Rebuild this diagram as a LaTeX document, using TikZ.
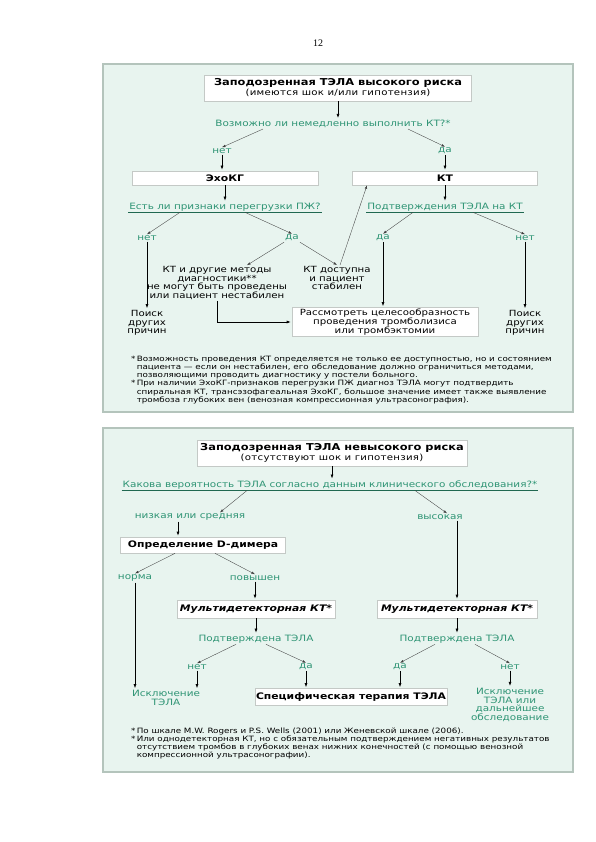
\documentclass[tikz,border=0pt]{standalone}
\usepackage{fontspec}
\setmainfont{DejaVu Sans}[FakeStretch=1.2]
\newfontfamily\pagefont{Liberation Serif}
\usepackage{xcolor}
\usetikzlibrary{arrows.meta, positioning, calc}
\definecolor{panelbg}{HTML}{E8F4EF}
\definecolor{panelline}{HTML}{B4C4BC}
\definecolor{qgreen}{HTML}{2E9474}
\definecolor{boxline}{HTML}{C4C9C6}

\begin{document}
\begin{tikzpicture}[x=1pt, y=-1pt,
  panel/.style={fill=panelbg, draw=panelline, line width=1.5pt},
  b/.style={draw=boxline, fill=white, line width=0.6pt, align=center, inner sep=1pt, font=\fontsize{9}{10}\selectfont\bfseries},
  bx/.style={b, font=\fontsize{8.5}{8.6}\selectfont},
  q/.style={text=qgreen, align=center, inner sep=1pt, font=\fontsize{8.7}{8.8}\selectfont},
  ul/.style={qgreen!70!black, line width=0.5pt},
  fl/.style={-{Latex[length=4pt, width=3pt]}, line width=0.6pt, shorten >=1pt},
  dl/.style={-{Latex[length=3.5pt, width=2.5pt]}, line width=0.35pt, black!75},
  txt/.style={align=center, inner sep=1pt, font=\fontsize{8.5}{8.6}\selectfont},
  nt/.style={align=left, inner sep=0pt, anchor=north west, font=\fontsize{7.3}{8.3}\selectfont}]
  \useasboundingbox (0,0) rectangle (595,842);
  \node[font=\pagefont\fontsize{10}{12}\selectfont] (pg) at (318,43) {12};

  % high risk
  \draw[panel] (103,64) rectangle (573,412);
  \node[b, minimum width=267pt, minimum height=26pt] (t1) at (338,88)
    {{\fontsize{9.5}{10.5}\selectfont Заподозренная ТЭЛА высокого риска}\\{\mdseries\fontsize{8.5}{8.5}\selectfont\addfontfeature{LetterSpace=3} (имеются шок и/или гипотензия)}};
  \node[q] (q1) at (333,124) {Возможно ли немедленно выполнить КТ?*};
  \node[q] (no1) at (222,151) {нет};
  \node[q] (yes1) at (445,151) {да};
  \node[b, minimum width=186pt, minimum height=14pt] (echo) at (225,178) {ЭхоКГ};
  \node[b, minimum width=185pt, minimum height=14pt] (ct) at (445,178) {КТ};
  \node[q] (q2) at (225,207) {Есть ли признаки перегрузки ПЖ?};
  \node[q] (q3) at (445,207) {Подтверждения ТЭЛА на КТ};
  \draw[ul] (q2.south west) -- (q2.south east);
  \draw[ul] (q3.south west) -- (q3.south east);
  \node[q] (no2) at (147,238) {нет};
  \node[q] (yes2) at (292,238) {да};
  \node[q] (yes3) at (383,238) {да};
  \node[q] (no3) at (525,238) {нет};
  \node[txt] (unst) at (217,283) {КТ и другие методы\\диагностики**\\не могут быть проведены\\или пациент нестабилен};
  \node[txt] (stab) at (337,278) {КТ доступна\\и пациент\\стабилен};
  \node[txt] (oth1) at (147,323) {Поиск\\других\\причин};
  \node[bx, minimum width=186pt, minimum height=29pt] (thr) at (385,322) {Рассмотреть целесообразность\\проведения тромболизиса\\или тромбэктомии};
  \node[txt] (oth2) at (525,323) {Поиск\\других\\причин};
  \draw[fl] (t1.south) -- (t1.south |- q1.north);
  \draw[dl] ([xshift=-70pt]q1.south) -- (no1.north);
  \draw[dl] ([xshift=75pt]q1.south) -- (yes1.north);
  \draw[fl] (no1.south) -- (no1.south |- echo.north);
  \draw[fl] (yes1.south) -- (ct.north);
  \draw[fl] (echo.south) -- (echo.south |- q2.north);
  \draw[fl] (ct.south) -- (q3.north);
  \draw[dl] ([xshift=-45pt]q2.south) -- (no2.north);
  \draw[dl] ([xshift=20pt]q2.south) -- (yes2.north);
  \draw[dl] ([xshift=-32pt]q3.south) -- (yes3.north);
  \draw[dl] ([xshift=28pt]q3.south) -- (no3.north);
  \draw[dl] ([xshift=-8pt]yes2.south) -- ([xshift=30pt]unst.north);
  \draw[dl] ([xshift=8pt]yes2.south) -- (stab.north);
  \draw[dl] ([xshift=3pt]stab.north) -- ([xshift=-78pt]ct.south);
  \draw[fl] (no2.south) -- (oth1.north);
  \draw[fl] (yes3.south) -- (yes3.south |- thr.north);
  \draw[fl] (no3.south) -- (oth2.north);
  \draw[fl] (unst.south) |- (thr.west);
  \node[nt] (n1) at (131,355) {\begin{tabular}{@{}r@{\,}l@{}}
    * & Возможность проведения КТ определяется не только ее доступностью, но и состоянием\\
      & пациента — если он нестабилен, его обследование должно ограничиться методами,\\
      & позволяющими проводить диагностику у постели больного.\\
    ** & При наличии ЭхоКГ-признаков перегрузки ПЖ диагноз ТЭЛА могут подтвердить\\
      & спиральная КТ, трансэзофагеальная ЭхоКГ, большое значение имеет также выявление\\
      & тромбоза глубоких вен (венозная компрессионная ультрасонография).
  \end{tabular}};

  % low risk
  \draw[panel] (103,428) rectangle (573,772);
  \node[b, minimum width=270pt, minimum height=26pt] (t2) at (332,453)
    {{\fontsize{9.5}{10.5}\selectfont Заподозренная ТЭЛА невысокого риска}\\{\mdseries\fontsize{8.5}{8.5}\selectfont\addfontfeature{LetterSpace=3} (отсутствуют шок и гипотензия)}};
  \node[q] (q4) at (330,485) {Какова вероятность ТЭЛА согласно данным клинического обследования?*};
  \draw[ul] (q4.south west) -- (q4.south east);
  \node[q] (low) at (190,517) {низкая или средняя};
  \node[q] (high) at (440,517) {высокая};
  \node[b, minimum width=165pt, minimum height=16pt] (dd) at (203,545) {Определение D-димера};
  \node[q] (norm) at (135,578) {норма};
  \node[q] (elev) at (255,578) {повышен};
  \node[b, minimum width=158pt, minimum height=18pt] (mct1) at (256,609) {\itshape Мультидетекторная КТ*};
  \node[b, minimum width=160pt, minimum height=18pt] (mct2) at (457,609) {\itshape Мультидетекторная КТ*};
  \node[q] (cf1) at (256,639) {Подтверждена ТЭЛА};
  \node[q] (cf2) at (457,639) {Подтверждена ТЭЛА};
  \node[q] (no4) at (197,667) {нет};
  \node[q] (yes4) at (306,667) {да};
  \node[q] (yes5) at (400,667) {да};
  \node[q] (no5) at (510,667) {нет};
  \node[q] (ex1) at (166,698) {Исключение\\ТЭЛА};
  \node[b, minimum width=192pt, minimum height=17pt] (spec) at (351,697) {Специфическая терапия ТЭЛА};
  \node[q] (ex2) at (510,705) {Исключение\\ТЭЛА или\\дальнейшее\\обследование};
  \draw[fl] (t2.south) -- (t2.south |- q4.north);
  \draw[dl] ([xshift=-83pt]q4.south) -- ([xshift=30pt]low.north);
  \draw[dl] ([xshift=85pt]q4.south) -- ([xshift=7pt]high.north);
  \draw[fl] ([xshift=-12pt]low.south) -- ([xshift=-12pt]low.south |- dd.north);
  \draw[fl] ([xshift=17pt]high.south) -- ([xshift=17pt]high.south |- mct2.north);
  \draw[dl] ([xshift=-28pt]dd.south) -- (norm.north);
  \draw[dl] ([xshift=12pt]dd.south) -- (elev.north);
  \draw[fl] (norm.south) -- (norm.south |- ex1.north);
  \draw[fl] (elev.south) -- (elev.south |- mct1.north);
  \draw[fl] (mct1.south) -- (cf1.north);
  \draw[fl] (mct2.south) -- (cf2.north);
  \draw[dl] ([xshift=-20pt]cf1.south) -- (no4.north);
  \draw[dl] ([xshift=10pt]cf1.south) -- (yes4.north);
  \draw[dl] ([xshift=-22pt]cf2.south) -- (yes5.north);
  \draw[dl] ([xshift=18pt]cf2.south) -- (no5.north);
  \draw[fl] (no4.south) -- (no4.south |- ex1.north);
  \draw[fl] (yes4.south) -- (yes4.south |- spec.north);
  \draw[fl] (yes5.south) -- (yes5.south |- spec.north);
  \draw[fl] (no5.south) -- (ex2.north);
  \node[nt] (n2) at (131,727) {\begin{tabular}{@{}r@{\,}l@{}}
    * & По шкале M.W. Rogers и P.S. Wells (2001) или Женевской шкале (2006).\\
    ** & Или однодетекторная КТ, но с обязательным подтверждением негативных результатов\\
      & отсутствием тромбов в глубоких венах нижних конечностей (с помощью венозной\\
      & компрессионной ультрасонографии).
  \end{tabular}};
\end{tikzpicture}
\end{document}
